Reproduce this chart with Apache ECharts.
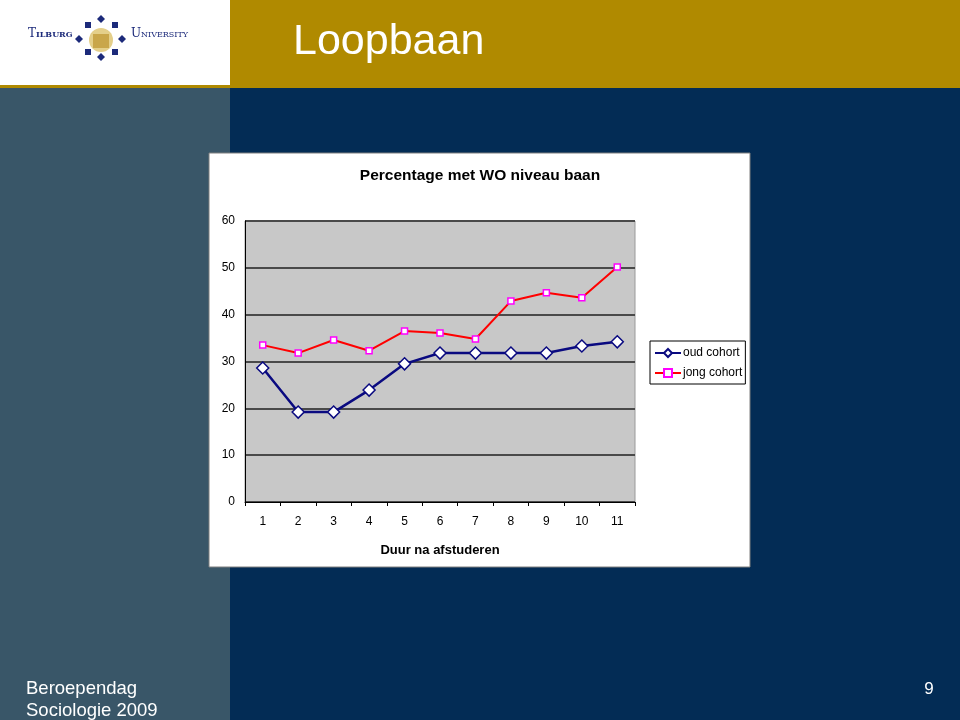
<!DOCTYPE html>
<html>
<head>
<meta charset="utf-8">
<script src="https://cdn.jsdelivr.net/npm/echarts@6/dist/echarts.min.js"></script>
<style>
  html, body { margin: 0; padding: 0; }
  #main { width: 960px; height: 720px; }
</style>
</head>
<body>
<div id="main"></div>
<script>
const categories = ["1", "2", "3", "4", "5", "6", "7", "8", "9", "10", "11"];
const oudCohort = [28.6, 19.2, 19.2, 23.9, 29.5, 31.8, 31.8, 31.8, 31.8, 33.3, 34.2];
const jongCohort = [33.5, 31.8, 34.6, 32.3, 36.5, 36.1, 34.8, 42.9, 44.7, 43.6, 50.2];

const chart = echarts.init(document.getElementById("main"));

const font = "Arial, 'Liberation Sans', sans-serif";
const navy = "#1c2a7a";

const options = {
  animation: false,
  backgroundColor: "#032c55",
  graphic: [
    // slide background
    { type: "rect", shape: { x: 0, y: 0, width: 230, height: 720 }, style: { fill: "#395668" }, z: -10 },
    { type: "rect", shape: { x: 0, y: 0, width: 960, height: 88 }, style: { fill: "#b08a00" }, z: -10 },
    { type: "rect", shape: { x: 0, y: 0, width: 230, height: 85 }, style: { fill: "#ffffff" }, z: -9 },
    {
      type: "text", x: 293, y: 42,
      style: { text: "Loopbaan", fill: "#ffffff", font: "43px " + font, verticalAlign: "middle" }
    },
    // logo
    { type: "text", x: 28, y: 40, style: { text: "T", fill: navy, font: "12px 'DejaVu Serif', serif", verticalAlign: "bottom" } },
    { type: "text", x: 36, y: 39, style: { text: "ILBURG", fill: navy, font: "bold 8px 'DejaVu Serif', serif", verticalAlign: "bottom" } },
    { type: "text", x: 131, y: 40, style: { text: "U", fill: navy, font: "12px 'DejaVu Serif', serif", verticalAlign: "bottom" } },
    { type: "text", x: 141, y: 39, style: { text: "NIVERSITY", fill: navy, font: "8px 'DejaVu Serif', serif", verticalAlign: "bottom" } },
    { type: "circle", shape: { cx: 101, cy: 40, r: 12 }, style: { fill: "#e4cf8a" } },
    { type: "rect", shape: { x: 93, y: 34, width: 16, height: 14 }, style: { fill: "#c9a64a" } },
    ...[[101, 19], [101, 57], [79, 39], [122, 39]].map(p => ({
      type: "polygon",
      shape: { points: [[p[0], p[1] - 4], [p[0] + 4, p[1]], [p[0], p[1] + 4], [p[0] - 4, p[1]]] },
      style: { fill: navy }
    })),
    ...[[88, 25], [115, 25], [88, 52], [115, 52]].map(p => ({
      type: "rect", shape: { x: p[0] - 3, y: p[1] - 3, width: 6, height: 6 },
      style: { fill: navy }
    })),
    // chart box
    {
      type: "rect", shape: { x: 209, y: 153, width: 541, height: 414 },
      style: { fill: "#ffffff", stroke: "#7f7f7f", lineWidth: 1 }, z: -5
    },
    {
      type: "rect", shape: { x: 245, y: 221, width: 390, height: 281 },
      style: { fill: "#c8c8c8", stroke: "#9a9a9a", lineWidth: 1 }, z: -4
    },
    {
      type: "text", x: 480, y: 176,
      style: {
        text: "Percentage met WO niveau baan", fill: "#000000",
        font: "bold 15.5px " + font, align: "center", verticalAlign: "middle"
      }
    },
    // footer
    {
      type: "text", x: 26, y: 678,
      style: { text: "Beroependag\nSociologie 2009", fill: "#ffffff", font: "18.5px " + font, lineHeight: 22 }
    },
    {
      type: "text", x: 929, y: 689,
      style: { text: "9", fill: "#ffffff", font: "17px " + font, align: "center", verticalAlign: "middle" }
    }
  ],
  grid: { left: 245, top: 221, width: 390, height: 281, containLabel: false },
  legend: {
    left: 650, top: 341,
    orient: "vertical",
    backgroundColor: "#ffffff",
    borderColor: "#000000",
    borderWidth: 1,
    borderRadius: 0,
    padding: [6, 3, 5, 4],
    itemGap: 8,
    itemWidth: 26,
    itemHeight: 10,
    textStyle: { fontFamily: font, fontSize: 12, color: "#000000", padding: [0, 0, 0, -3] },
    data: ["oud cohort", "jong cohort"]
  },
  xAxis: {
    type: "category",
    data: categories,
    boundaryGap: true,
    name: "Duur na afstuderen",
    nameLocation: "middle",
    nameGap: 42,
    nameTextStyle: { fontFamily: font, fontSize: 13, fontWeight: "bold", color: "#000000" },
    axisLine: { lineStyle: { color: "#000000", width: 1 } },
    axisTick: { show: true, length: 4, lineStyle: { color: "#000000" } },
    axisLabel: { fontFamily: font, fontSize: 12, color: "#000000", margin: 14 }
  },
  yAxis: {
    type: "value",
    min: 0, max: 60, interval: 10,
    axisLine: { show: true, lineStyle: { color: "#000000", width: 1 } },
    axisTick: { show: false },
    axisLabel: { fontFamily: font, fontSize: 12, color: "#000000", margin: 10 },
    splitLine: { show: true, lineStyle: { color: "#4a4a4a", width: 2 } }
  },
  series: [
    {
      name: "oud cohort",
      type: "line",
      data: oudCohort,
      symbol: "diamond",
      symbolSize: 12,
      lineStyle: { color: "#0a0a80", width: 2.5 },
      itemStyle: { color: "#ffffff", borderColor: "#0a0a80", borderWidth: 1.5 },
      z: 3
    },
    {
      name: "jong cohort",
      type: "line",
      data: jongCohort,
      symbol: "rect",
      symbolSize: 6,
      lineStyle: { color: "#ff0000", width: 2 },
      itemStyle: { color: "#ffffff", borderColor: "#ff00ff", borderWidth: 1.5 },
      z: 4
    }
  ]
};

chart.setOption(options);
</script>
</body>
</html>
